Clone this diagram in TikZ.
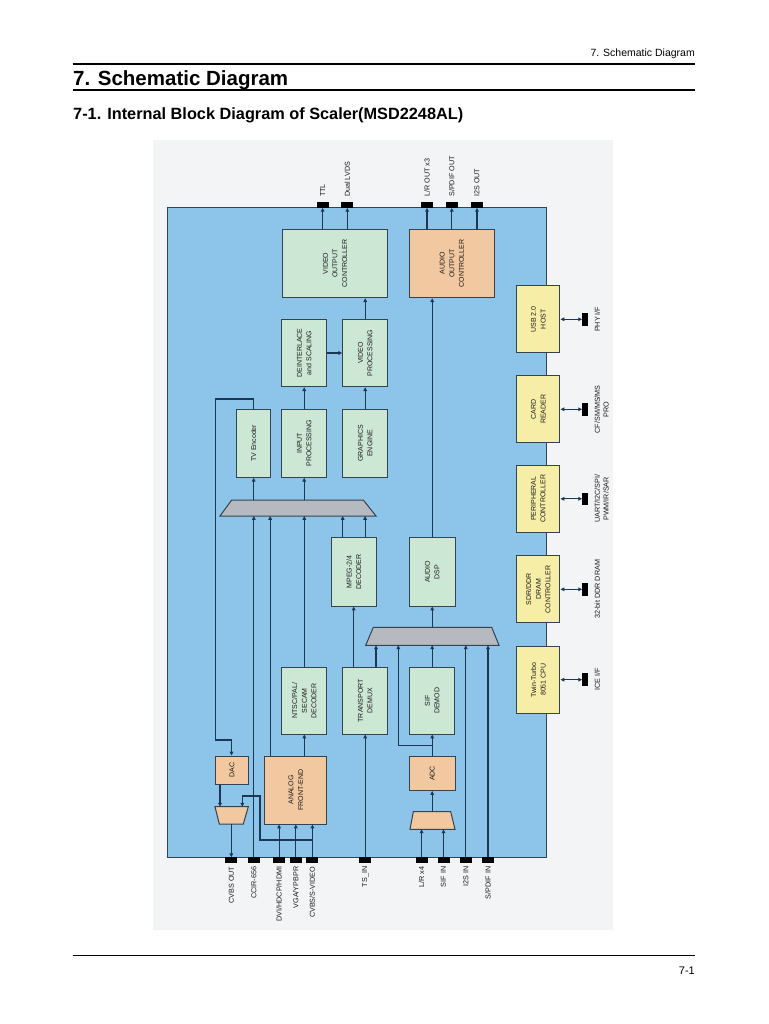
\documentclass[tikz,border=0pt]{standalone}
\usepackage{fontspec}
\setmainfont{Liberation Sans}
\usetikzlibrary{arrows.meta}
\definecolor{pagebg}{HTML}{F2F4F5}
\definecolor{bluebg}{HTML}{8DC4EA}
\definecolor{greenc}{HTML}{CDE7D5}
\definecolor{orangec}{HTML}{F2C8A0}
\definecolor{yellowc}{HTML}{F6EEA6}
\definecolor{muxc}{HTML}{B6BAC0}
\definecolor{wirec}{HTML}{1C3755}
\definecolor{boxc}{HTML}{34434D}
\definecolor{txtc}{HTML}{1A1A1A}
\begin{document}
\begin{tikzpicture}[x=1pt,y=-1pt,
  wire/.style={draw=wirec, line width=1.05pt},
  arr/.style={wire,-{Triangle[length=3.8pt,width=3.6pt]}},
  darr/.style={wire,{Triangle[length=3.8pt,width=3.6pt]}-{Triangle[length=3.8pt,width=3.6pt]}},
  box/.style={draw=boxc, line width=1pt, inner sep=0pt, rectangle},
  gbox/.style={box, fill=greenc},
  obox/.style={box, fill=orangec},
  ybox/.style={box, fill=yellowc},
  muxst/.style={draw=boxc, line width=1pt, fill=muxc},
  btxt/.style={rotate=90, align=center, font=\fontsize{7}{9.6}\selectfont, inner sep=0pt, text=txtc},
  pinh/.style={fill=black, inner sep=0pt, minimum width=12pt, minimum height=5.5pt},
  pinv/.style={fill=black, inner sep=0pt, minimum width=6pt, minimum height=12.5pt},
  plab/.style={rotate=90, font=\fontsize{7.2}{8.8}\selectfont, inner sep=0pt, text=txtc, align=center},
]
\useasboundingbox (0,0) rectangle (768,1024);
\fill[white] (0,0) rectangle (768,1024);

% ---------- page header / footer ----------
\node[anchor=base east, inner sep=0pt, font=\fontsize{10.5}{12}\selectfont] (hdr) at (695,57) {7. Schematic Diagram};
\draw[line width=1.6pt] (72.7,64.3) -- (695,64.3);
\node[anchor=base west, inner sep=0pt, font=\bfseries\fontsize{20.5}{24}\selectfont] (h1) at (73,85.7) {7. Schematic Diagram};
\draw[line width=1.1pt] (72.7,90) -- (695,90);
\node[anchor=base west, inner sep=0pt, font=\bfseries\fontsize{16.3}{19}\selectfont] (h2) at (73,120) {7-1. Internal Block Diagram of Scaler(MSD2248AL)};
\draw[line width=1.6pt] (72.7,955.5) -- (695,955.5);
\node[anchor=base east, inner sep=0pt, font=\fontsize{11}{13}\selectfont] (pg) at (695,974) {7-1};

% ---------- backgrounds ----------
\fill[pagebg] (153,140) rectangle (613,930);
\node[draw=boxc, line width=0.9pt, fill=bluebg, inner sep=0pt, minimum width=378.7pt, minimum height=650pt] (chip) at (356.65,532.7) {};

% ---------- blocks ----------
\node[gbox, minimum width=105.4pt, minimum height=68.4pt] (voc) at (335,263.5) {};
\node[btxt] (voct) at (voc) {VIDEO\\OUTPUT\\CONTROLLER};
\node[obox, minimum width=84.3pt, minimum height=68.4pt] (aoc) at (451.9,263.5) {};
\node[btxt] (aoct) at (aoc) {AUDIO\\OUTPUT\\CONTROLLER};

\node[gbox, minimum width=45pt, minimum height=67.4pt] (dei) at (304.2,353) {};
\node[btxt] (deit) at (dei) {DEINTERLACE\\and SCALING};
\node[gbox, minimum width=45pt, minimum height=67.4pt] (vp) at (365.2,353) {};
\node[btxt] (vpt) at (vp) {VIDEO\\PROCESSING};

\node[gbox, minimum width=34pt, minimum height=68pt] (tve) at (253.7,443.3) {};
\node[btxt] (tvet) at (tve) {TV Encoder};
\node[gbox, minimum width=45pt, minimum height=68pt] (ip) at (304.2,443.3) {};
\node[btxt] (ipt) at (ip) {INPUT\\PROCESSING};
\node[gbox, minimum width=45pt, minimum height=68pt] (ge) at (365.2,443.3) {};
\node[btxt] (get) at (ge) {GRAPHICS\\ENGINE};

\node[gbox, minimum width=44.3pt, minimum height=68.3pt] (mpeg) at (353.9,571.9) {};
\node[btxt] (mpegt) at (mpeg) {MPEG-2/4\\DECODER};
\node[gbox, minimum width=45.7pt, minimum height=68.3pt] (adsp) at (432.2,571.9) {};
\node[btxt] (adspt) at (adsp) {AUDIO\\DSP};

\node[gbox, minimum width=44.7pt, minimum height=66.5pt] (ntsc) at (304.3,700.8) {};
\node[btxt] (ntsct) at (ntsc) {NTSC/PAL/\\SECAM\\DECODER};
\node[gbox, minimum width=45pt, minimum height=66.5pt] (tdm) at (365.2,700.8) {};
\node[btxt] (tdmt) at (tdm) {TRANSPORT\\DEMUX};
\node[gbox, minimum width=45.5pt, minimum height=66.5pt] (sif) at (432.2,700.8) {};
\node[btxt] (sift) at (sif) {SIF\\DEMOD};

\node[obox, minimum width=32.6pt, minimum height=28pt] (dac) at (232,770) {};
\node[btxt] (dact) at (dac) {DAC};
\node[obox, minimum width=61.7pt, minimum height=68pt] (afe) at (295.8,790) {};
\node[btxt] (afet) at (afe) {ANALOG\\FRONT-END};
\node[obox, minimum width=45.7pt, minimum height=34pt] (adc) at (432.2,773.5) {};
\node[btxt] (adct) at (adc) {ADC};

\node[ybox, minimum width=43.3pt, minimum height=66.7pt] (usb) at (538.3,319.3) {};
\node[btxt] (usbt) at (usb) {USB 2.0\\HOST};
\node[ybox, minimum width=43.3pt, minimum height=66.7pt] (card) at (538.3,409.3) {};
\node[btxt] (cardt) at (card) {CARD\\READER};
\node[ybox, minimum width=43.3pt, minimum height=66.7pt] (peri) at (538.3,498.8) {};
\node[btxt] (perit) at (peri) {PERIPHERAL\\CONTROLLER};
\node[ybox, minimum width=43.3pt, minimum height=66.7pt] (sdr) at (538.3,589.3) {};
\node[btxt] (sdrt) at (sdr) {SDR/DDR\\DRAM\\CONTROLLER};
\node[ybox, minimum width=43.3pt, minimum height=66.7pt] (cpu) at (538.3,679.7) {};
\node[btxt] (cput) at (cpu) {Twin-Turbo\\8051 CPU};

% ---------- multiplexers ----------
\draw[muxst] (220,516) -- (231.7,500) -- (363.3,500) -- (376,516) -- cycle;
\coordinate (vmuxtop) at (298,500);
\coordinate (vmuxbot) at (298,516);
\draw[muxst] (365.7,645.3) -- (373.3,627.3) -- (491.7,627.3) -- (499,645.3) -- cycle;
\coordinate (amuxtop) at (432.3,627.3);
\coordinate (amuxbot) at (432.3,645.3);
\draw[muxst, fill=orangec] (215,806.7) -- (248.3,806.7) -- (243.3,824) -- (219.3,824) -- cycle;
\coordinate (vsmtop) at (231.5,806.7);
\coordinate (vsmbot) at (231.3,824);
\draw[muxst, fill=orangec] (413.3,811.7) -- (450.7,811.7) -- (455,829.3) -- (410,829.3) -- cycle;
\coordinate (asmtop) at (432.2,811.7);
\coordinate (asmbot) at (432.2,829.3);

% ---------- pins ----------
\node[pinh, minimum height=6pt] (ttl) at (322.6,204.7) {};
\node[pinh, minimum height=6pt] (lvds) at (347.3,204.7) {};
\node[pinh, minimum height=6pt] (lrout) at (427,204.7) {};
\node[pinh, minimum height=6pt] (spout) at (451.8,204.7) {};
\node[pinh, minimum height=6pt] (i2sout) at (477,204.7) {};

\node[pinh] (cvbsout) at (231.3,860.2) {};
\node[pinh] (ccir) at (253.8,860.2) {};
\node[pinh] (dvi) at (279.1,860.2) {};
\node[pinh] (vga) at (295.8,860.2) {};
\node[pinh] (cvbsin) at (312.4,860.2) {};
\node[pinh] (tsin) at (365.2,860.2) {};
\node[pinh] (lrin) at (421.6,860.2) {};
\node[pinh] (sifin) at (443.5,860.2) {};
\node[pinh] (i2sin) at (465.8,860.2) {};
\node[pinh] (spin) at (488,860.2) {};

\node[pinv] (phy) at (585.3,319.3) {};
\node[pinv] (cfp) at (585.3,409.3) {};
\node[pinv] (uartp) at (585.3,498.8) {};
\node[pinv] (ddrp) at (585.3,589.3) {};
\node[pinv] (icep) at (585.3,679.7) {};

% ---------- pin labels ----------
\node[plab, anchor=west] (lttl) at (322.6,197) {TTL};
\node[plab, anchor=west] (llvds) at (347.3,197) {Dual LVDS};
\node[plab, anchor=west] (llrout) at (427,197) {L/R OUT x3};
\node[plab, anchor=west] (lspout) at (451.8,197) {S/PDIF OUT};
\node[plab, anchor=west] (li2sout) at (477,197) {I2S OUT};

\node[plab, anchor=east] (lcvbsout) at (231.3,866.5) {CVBS OUT};
\node[plab, anchor=east] (lccir) at (253.8,866.5) {CCIR-656};
\node[plab, anchor=east] (ldvi) at (279.1,866.5) {DVI/HDCP/HDMI};
\node[plab, anchor=east] (lvga) at (295.8,866.5) {VGA/YPBPR};
\node[plab, anchor=east] (lcvbsin) at (312.4,866.5) {CVBS/S-VIDEO};
\node[plab, anchor=east] (ltsin) at (365.2,866.5) {TS\_IN};
\node[plab, anchor=east] (llrin) at (421.6,866.5) {L/R x4};
\node[plab, anchor=east] (lsifin) at (443.5,866.5) {SIF IN};
\node[plab, anchor=east] (li2sin) at (465.8,866.5) {I2S IN};
\node[plab, anchor=east] (lspin) at (488,866.5) {S/PDIF IN};

\node[plab, anchor=north] (lphy) at (594.5,319.3) {PHY I/F};
\node[plab, anchor=north] (lcf) at (594.5,409.3) {CF/SM/MS/MS\\PRO};
\node[plab, anchor=north] (luart) at (594.5,498.8) {UART/I2C/SPI/\\PWM/IR/SAR};
\node[plab, anchor=north] (lddr) at (594.5,589.3) {32-bit DDR DRAM};
\node[plab, anchor=north] (lice) at (594.5,679.7) {ICE I/F};

% ---------- connectors: outputs ----------
\draw[arr] (voc.north -| ttl) -- (ttl.south);
\draw[arr] (voc.north -| lvds) -- (lvds.south);
\draw[arr] (aoc.north -| lrout) -- (lrout.south);
\draw[arr] (aoc.north -| spout) -- (spout.south);
\draw[arr] (aoc.north -| i2sout) -- (i2sout.south);
\draw[arr] (vp.north) -- (vp.north |- voc.south);
\draw[arr] (adsp.north) -- (adsp.north |- aoc.south);

% ---------- video path ----------
\draw[arr] (dei.east) -- (vp.west);
\draw[arr] (ip.north) -- (dei.south);
\draw[arr] (ge.north) -- (vp.south);
\draw[arr] (tve.south |- vmuxtop) -- (tve.south);
\draw[arr] (ip.south |- vmuxtop) -- (ip.south);
\coordinate (tvc1) at (215.7,399);
\coordinate (tvc2) at (215.7,740);
\draw[arr] (tve.north) |- (tvc1) -- (tvc2) -| (vsmtop |- dac.north);
\draw[arr] (ccir.north) -- (ccir.north |- vmuxbot);
\draw[arr] ([xshift=5.7pt]afe.north west) -- ([xshift=5.7pt]afe.north west |- vmuxbot);
\draw[arr] (ntsc.north) -- (ntsc.north |- vmuxbot);
\draw[arr] ([xshift=-11.2pt]mpeg.north) -- ([xshift=-11.2pt]mpeg.north |- vmuxbot);
\draw[arr] ([xshift=11.2pt]mpeg.north) -- ([xshift=11.2pt]mpeg.north |- vmuxbot);
\draw[arr] (afe.north -| ntsc.south) -- (ntsc.south);
\draw[arr] (dvi.north) -- (dvi.north |- afe.south);
\draw[arr] (vga.north) -- (vga.north |- afe.south);
\draw[arr] (cvbsin.north) -- (cvbsin.north |- afe.south);
\coordinate (b1) at (260,840);
\coordinate (b2) at (260,796);
\coordinate (b3) at (242.3,796);
\draw[arr] (cvbsin.north |- b1) -- (b1) -- (b2) -- (b3) -- (b3 |- vsmtop);
\draw[arr] ([xshift=-12pt]dac.south) -- ([xshift=-12pt]dac.south |- vsmtop);
\draw[arr] (vsmbot) -- (cvbsout.north);

% ---------- transport / audio path ----------
\draw[arr] (tsin.north) -- (tsin.north |- tdm.south);
\draw[arr] ([xshift=-11.5pt]tdm.north) -- ([xshift=-11.5pt]tdm.north |- mpeg.south);
\draw[arr] ([xshift=10.8pt]tdm.north) -- ([xshift=10.8pt]tdm.north |- amuxbot);
\draw[arr] (adsp.south |- amuxtop) -- (adsp.south);
\draw[arr] (sif.north) -- (sif.north |- amuxbot);
\draw[arr] (adc.north) -- (sif.south);
\coordinate (br) at (398.3,745.7);
\draw[arr] (adc.north |- br) -- (br) -- (br |- amuxbot);
\draw[arr] (i2sin.north) -- (i2sin.north |- amuxbot);
\draw[arr] (spin.north) -- (spin.north |- amuxbot);
\draw[arr] (asmtop) -- (adc.south);
\draw[arr] (lrin.north) -- (lrin.north |- asmbot);
\draw[arr] (sifin.north) -- (sifin.north |- asmbot);

% ---------- peripheral links ----------
\draw[darr] (usb.east) -- (phy.west);
\draw[darr] (card.east) -- (cfp.west);
\draw[darr] (peri.east) -- (uartp.west);
\draw[darr] (sdr.east) -- (ddrp.west);
\draw[darr] (cpu.east) -- (icep.west);
\end{tikzpicture}
\end{document}
